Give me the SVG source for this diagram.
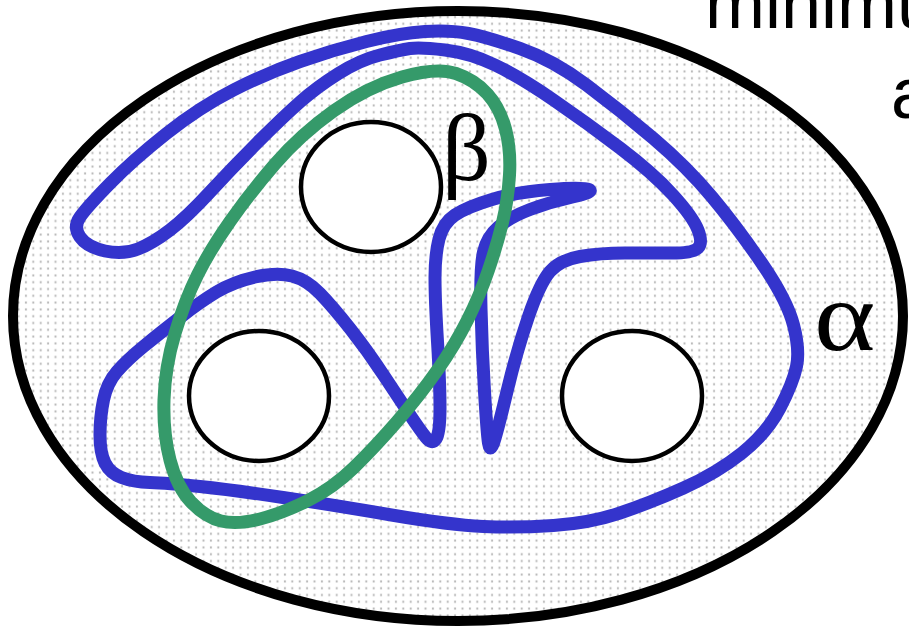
<svg xmlns="http://www.w3.org/2000/svg" width="909" height="627" viewBox="0 0 909 627">
  <style>
    .hole { fill: #ffffff; stroke: #000000; stroke-width: 4.5; }
    .alpha { fill: none; stroke: #3434cc; stroke-width: 13; stroke-linejoin: round; }
    .beta { fill: none; stroke: #359a6a; stroke-width: 13; stroke-linejoin: round; }
    .greek { font-family: "Liberation Serif", "DejaVu Serif", serif; font-size: 96px; fill: #000000; }
    .title { font-family: "Liberation Sans", Arial, sans-serif; font-size: 72px; fill: #000000; }
  </style>
  <defs>
    <pattern id="stipple" width="7.4" height="6.8" patternUnits="userSpaceOnUse">
      <rect width="7.4" height="6.8" fill="#ffffff"/>
      <rect x="2.7" y="2.4" width="2" height="2" fill="#b8b8b8"/>
    </pattern>
  </defs>
  <rect width="909" height="627" fill="#ffffff"/>

  <g id="title">
    <text class="title" x="705" y="28">minimum</text>
    <text class="title" x="891" y="118">a</text>
  </g>

  <g id="surface">
    <ellipse cx="458" cy="316" rx="445" ry="305" fill="url(#stipple)" stroke="#000000" stroke-width="10"/>
  </g>

  <g id="holes">
    <ellipse id="hole-top" class="hole" cx="371" cy="187" rx="70" ry="65"/>
    <ellipse id="hole-left" class="hole" cx="259" cy="396" rx="70" ry="65"/>
    <ellipse id="hole-right" class="hole" cx="632" cy="396" rx="70" ry="65"/>
  </g>

  <g id="curves">
    <path id="curve-alpha" class="alpha" d="M 80,237 Q 73,227 80,217 Q 87,207 110,183.5 Q 133,160 166.5,133.5 Q 200,107 233.5,90 Q 267,73 300,61.5 Q 333,50 366.5,41.5 Q 400,33 425,31.5 Q 450,30 468.5,33.5 Q 487,37 520,48.5 Q 553,60 586.5,85 Q 620,110 653.5,138.5 Q 687,167 712,197 Q 737,227 762,263.5 Q 787,300 793.5,325 Q 800,350 796.5,366.5 Q 793,383 780,408 Q 767,433 742,453 Q 717,473 683.5,488 Q 650,503 620,513 Q 590,523 553.5,525.5 Q 517,528 483.5,526.5 Q 450,525 391.5,515 Q 333,505 283,497.5 Q 233,490 200,486.5 Q 167,483 150,482.5 Q 133,482 121.5,477.5 Q 110,473 105,463 Q 100,453 100,435 Q 100,417 103.5,400 Q 107,383 117,371.5 Q 127,360 143.5,346.5 Q 160,333 180,317.5 Q 200,302 216.5,292 Q 233,282 255,277 Q 277,272 292,276 Q 307,280 320,293.5 Q 333,307 350,328.5 Q 367,350 383.5,375 Q 400,400 410,415 Q 420,430 426,437.5 Q 432,445 436,439 Q 440,433 440,408 Q 440,383 437.5,341.5 Q 435,300 435,277.5 Q 435,255 439,239 Q 443,223 455,215 Q 467,207 492,199.5 Q 517,192 550,189.5 Q 583,187 589,189.5 Q 595,192 572.5,197 Q 550,202 530,209.5 Q 510,217 498.5,227 Q 487,237 483.5,252 Q 480,267 481,308.5 Q 482,350 484.5,391.5 Q 487,433 488.5,443 Q 490,453 493.5,443 Q 497,433 507,391.5 Q 517,350 528.5,316.5 Q 540,283 550,271.5 Q 560,260 580,256.5 Q 600,253 625,253 Q 650,253 671.5,253 Q 693,253 698,248 Q 703,243 698,230 Q 693,217 673,195 Q 653,173 620,148 Q 587,123 553.5,100 Q 520,77 495,65 Q 470,53 445,50 Q 420,47 410,48.5 Q 400,50 380,55 Q 360,60 338.5,73.5 Q 317,87 300,102 Q 283,117 258,142 Q 233,167 210,192 Q 187,217 170,230 Q 153,243 138,249 Q 123,255 105,251 Q 87,247 80,237 Z"/>
    <path id="curve-beta" class="beta" d="M 402,77 Q 437,67 456,73.5 Q 475,80 487.5,94 Q 500,108 505.5,129 Q 511,150 509.5,175 Q 508,200 502.5,222.5 Q 497,245 488.5,270 Q 480,295 467.5,320 Q 455,345 437.5,370 Q 420,395 397.5,421 Q 375,447 354,467.5 Q 333,488 308,500.5 Q 283,513 260,519 Q 237,525 221,521 Q 205,517 191,502 Q 177,487 170,460 Q 163,433 164,400 Q 165,367 175,333.5 Q 185,300 197.5,275 Q 210,250 230,221.5 Q 250,193 275,164 Q 300,135 333.5,111 Q 367,87 402,77 Z"/>
  </g>

  <g id="labels">
    <text id="label-beta" class="greek" x="442" y="180">β</text>
    <text id="label-alpha" class="greek" transform="translate(814,350) scale(1.22,1.04)" x="0" y="0">α</text>
  </g>
</svg>
